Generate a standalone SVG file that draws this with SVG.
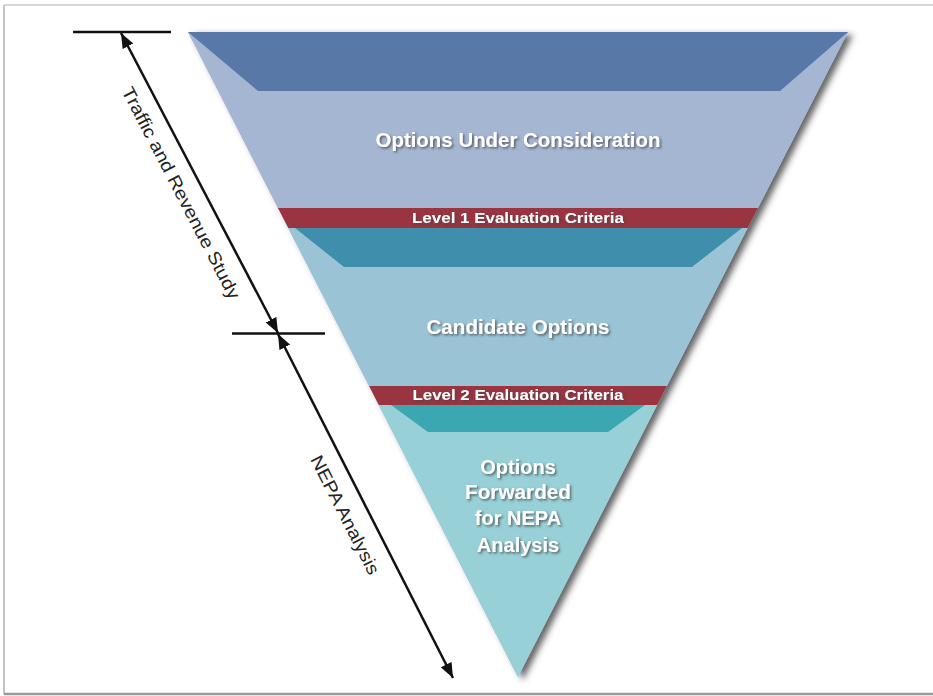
<svg xmlns="http://www.w3.org/2000/svg" width="933" height="696" viewBox="0 0 933 696">
<defs>
<style>
.lbl{font-family:"Liberation Sans",Arial,sans-serif;font-weight:bold;fill:#ffffff;text-anchor:middle;}
.big{font-size:20px;}
.crit{font-size:14px;}
.dim{font-family:"Liberation Sans",Arial,sans-serif;font-size:18px;fill:#222222;text-anchor:middle;dominant-baseline:central;}
.dline{stroke:#111111;stroke-width:2.5;fill:none;}
</style>
<filter id="fshadow" x="-10%" y="-10%" width="125%" height="125%">
<feGaussianBlur in="SourceAlpha" stdDeviation="3"/>
<feOffset dx="5" dy="3" result="b"/>
<feFlood flood-color="#333333" flood-opacity="0.75"/>
<feComposite in2="b" operator="in"/>
<feMerge><feMergeNode/><feMergeNode in="SourceGraphic"/></feMerge>
</filter>
<filter id="tshadow" x="-10%" y="-30%" width="120%" height="160%">
<feDropShadow dx="1.5" dy="1.5" stdDeviation="1" flood-color="#444444" flood-opacity="0.8"/>
</filter>
<marker id="ah" markerUnits="userSpaceOnUse" markerWidth="16" markerHeight="12" refX="15" refY="6" orient="auto-start-reverse">
<path d="M0,0 L15,6 L0,12 z" fill="#111111"/>
</marker>
</defs>
<rect width="933" height="696" fill="#ffffff"/>
<g id="frame">
<line x1="4" y1="5" x2="933" y2="5" stroke="#d6d6d6" stroke-width="2"/>
<line x1="4" y1="5" x2="4" y2="694" stroke="#c4c4c4" stroke-width="2"/>
<line x1="4" y1="694" x2="933" y2="694" stroke="#9a9a9a" stroke-width="2.5"/>
</g>
<g id="funnel" filter="url(#fshadow)">
<polygon points="188,32 848,32 518,677" fill="#a5b6d3"/>
</g>
<g id="options-under-consideration">
<polygon points="188,32 848,32 758,208 278,208" fill="#a5b6d3"/>
<polygon points="188,32 848,32 780,91 258,91" fill="#5878a8"/>
<text class="lbl big" x="518" y="147" textLength="285" lengthAdjust="spacingAndGlyphs" filter="url(#tshadow)">Options Under Consideration</text>
</g>
<g id="level1">
<polygon points="278,208 758,208 747.7,228 288.3,228" fill="#9a3441"/>
<text class="lbl crit" x="518" y="223" textLength="212" lengthAdjust="spacingAndGlyphs" filter="url(#tshadow)">Level 1 Evaluation Criteria</text>
</g>
<g id="candidate-options">
<polygon points="288.3,228 747.7,228 666.9,386 369.1,386" fill="#9ac4d6"/>
<polygon points="295,228 742,228 692,267 344,267" fill="#3f8eac"/>
<text class="lbl big" x="518" y="334" textLength="183" lengthAdjust="spacingAndGlyphs" filter="url(#tshadow)">Candidate Options</text>
</g>
<g id="level2">
<polygon points="369.1,386 666.9,386 657.2,405 378.8,405" fill="#9a3441"/>
<text class="lbl crit" x="518" y="400" textLength="211" lengthAdjust="spacingAndGlyphs" filter="url(#tshadow)">Level 2 Evaluation Criteria</text>
</g>
<g id="options-forwarded">
<polygon points="378.8,405 657.2,405 518,677" fill="#97d0d7"/>
<polygon points="391,405 645,405 608,432 428,432" fill="#3ba7b0"/>
<g filter="url(#tshadow)">
<text class="lbl big" x="518" y="474">Options</text>
<text class="lbl big" x="518" y="499" textLength="106" lengthAdjust="spacingAndGlyphs">Forwarded</text>
<text class="lbl big" x="518" y="525">for NEPA</text>
<text class="lbl big" x="518" y="552">Analysis</text>
</g>
</g>
<g id="connectors">
<line class="dline" x1="73" y1="32" x2="171" y2="32"/>
<line class="dline" x1="232" y1="333.5" x2="325" y2="333.5"/>
<line class="dline" x1="121" y1="33" x2="278" y2="333" marker-start="url(#ah)" marker-end="url(#ah)"/>
<line class="dline" x1="278" y1="334" x2="453" y2="678" marker-start="url(#ah)" marker-end="url(#ah)"/>
</g>
<g id="traffic-revenue-label">
<text class="dim" transform="translate(181,193) rotate(62.6)" x="0" y="0" textLength="236" lengthAdjust="spacingAndGlyphs">Traffic and Revenue Study</text>
</g>
<g id="nepa-label">
<text class="dim" transform="translate(345,515) rotate(63)" x="0" y="0" textLength="131" lengthAdjust="spacingAndGlyphs">NEPA Analysis</text>
</g>
</svg>
